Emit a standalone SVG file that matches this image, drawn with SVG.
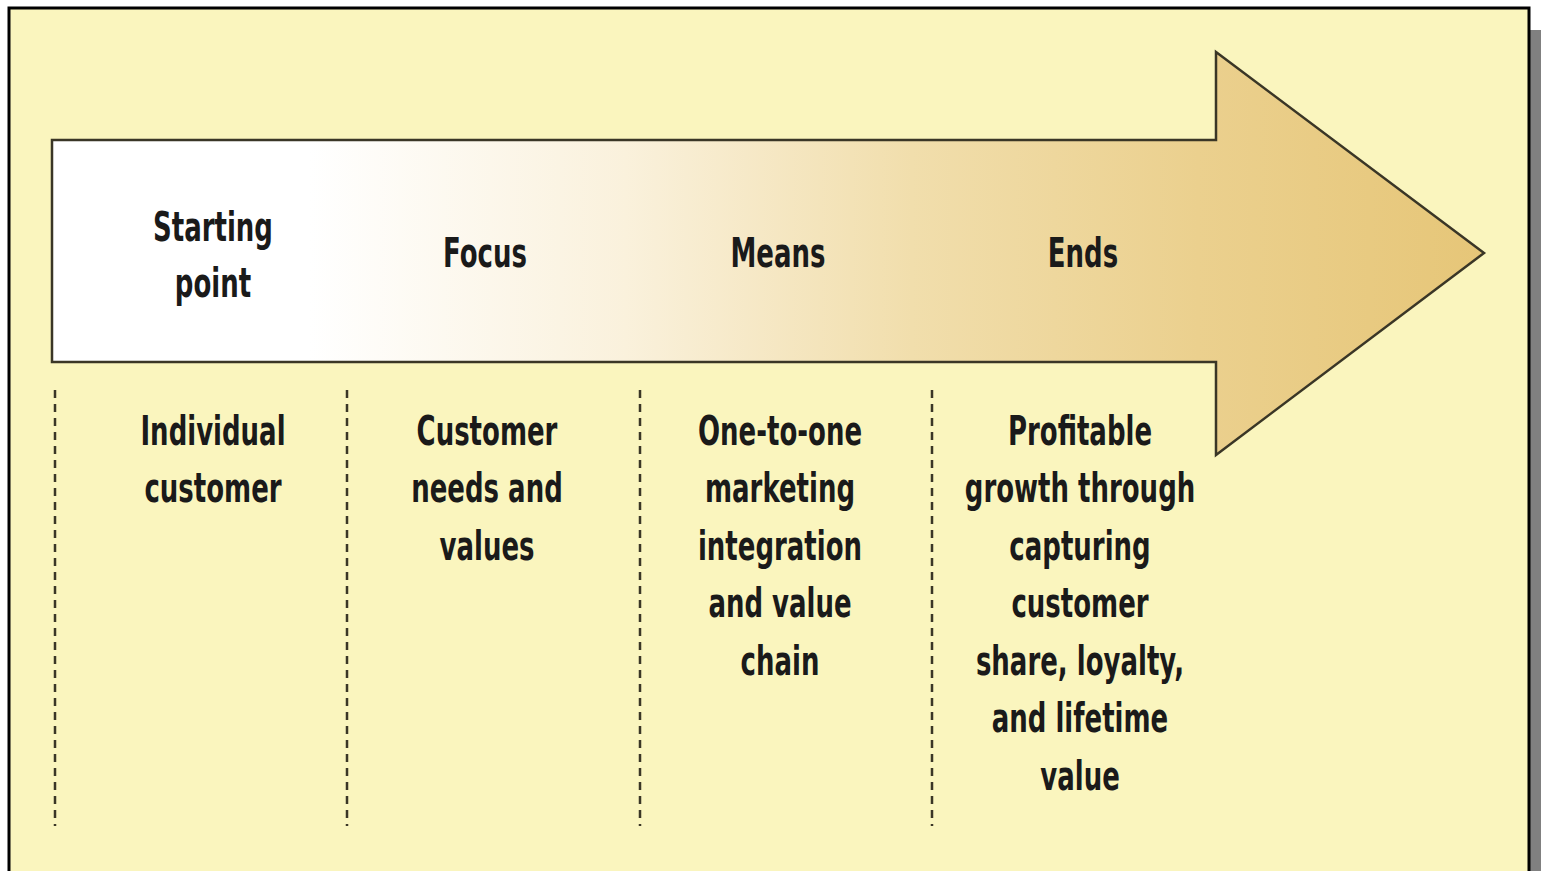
<svg xmlns="http://www.w3.org/2000/svg" width="1541" height="871" viewBox="0 0 1541 871">
<defs>
<linearGradient id="ag" gradientUnits="userSpaceOnUse" x1="52" y1="0" x2="1485" y2="0">
<stop offset="0" stop-color="#FFFFFF"/>
<stop offset="0.18" stop-color="#FFFFFF"/>
<stop offset="0.40" stop-color="#FAF1DC"/>
<stop offset="0.60" stop-color="#F1DEAC"/>
<stop offset="0.80" stop-color="#EBD08E"/>
<stop offset="1" stop-color="#E6C678"/>
</linearGradient>
<style>
.t{font-family:"DejaVu Sans",sans-serif;font-size:40px;font-weight:bold;fill:#1a1a1a;text-anchor:middle}
.d{stroke:#3a3626;stroke-width:2.5;stroke-dasharray:8 6;fill:none}
</style>
</defs>
<rect x="0" y="0" width="1541" height="871" fill="#FFFFFF"/>
<rect x="1529" y="30" width="12" height="841" fill="#808080"/>
<rect x="9" y="8" width="1520" height="870" fill="#FAF5BE" stroke="#000" stroke-width="3"/>
<g id="arrow">
<path d="M52,140 H1216 V52 L1484,253 L1216,455 V362 H52 Z" fill="url(#ag)" stroke="#3a3626" stroke-width="2.5" stroke-linejoin="miter"/>
<g transform="translate(213,0) scale(0.65,1)">
<text class="t" x="0" y="241">Starting</text>
<text class="t" x="0" y="297">point</text>
</g>
<g transform="translate(485,0) scale(0.65,1)"><text class="t" x="0" y="267">Focus</text></g>
<g transform="translate(778,0) scale(0.65,1)"><text class="t" x="0" y="267">Means</text></g>
<g transform="translate(1083,0) scale(0.65,1)"><text class="t" x="0" y="267">Ends</text></g>
</g>
<g id="connectors">
<line class="d" x1="55" y1="390" x2="55" y2="826"/>
<line class="d" x1="347" y1="390" x2="347" y2="826"/>
<line class="d" x1="640" y1="390" x2="640" y2="826"/>
<line class="d" x1="932" y1="390" x2="932" y2="826"/>
</g>
<g id="col1" transform="translate(213,0) scale(0.65,1)">
<text class="t" x="0" y="445">Individual</text>
<text class="t" x="0" y="502">customer</text>
</g>
<g id="col2" transform="translate(487,0) scale(0.65,1)">
<text class="t" x="0" y="445">Customer</text>
<text class="t" x="0" y="502">needs and</text>
<text class="t" x="0" y="560">values</text>
</g>
<g id="col3" transform="translate(780,0) scale(0.65,1)">
<text class="t" x="0" y="445">One-to-one</text>
<text class="t" x="0" y="502">marketing</text>
<text class="t" x="0" y="560">integration</text>
<text class="t" x="0" y="617">and value</text>
<text class="t" x="0" y="675">chain</text>
</g>
<g id="col4" transform="translate(1080,0) scale(0.65,1)">
<text class="t" x="0" y="445">Profitable</text>
<text class="t" x="0" y="502">growth through</text>
<text class="t" x="0" y="560">capturing</text>
<text class="t" x="0" y="617">customer</text>
<text class="t" x="0" y="675">share, loyalty,</text>
<text class="t" x="0" y="732">and lifetime</text>
<text class="t" x="0" y="790">value</text>
</g>
</svg>
